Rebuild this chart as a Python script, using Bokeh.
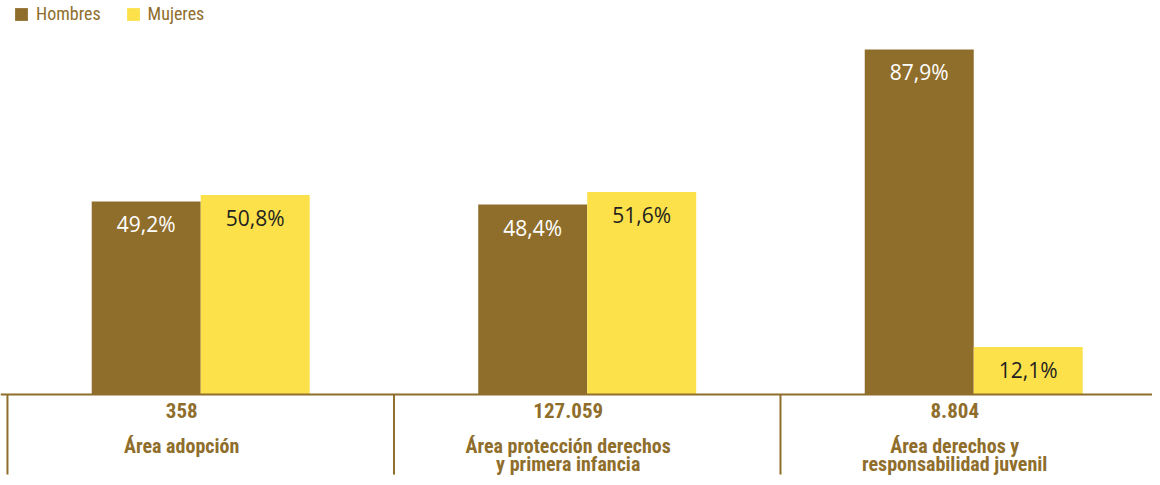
from bokeh.plotting import figure
from bokeh.models import ColumnDataSource, Range1d, Span
from bokeh.transform import dodge
from bokeh.core.properties import value
from bokeh.embed import file_html
from bokeh.resources import INLINE

# ---- data ----
categories = ["Área adopción",
              "Área protección derechos\ny primera infancia",
              "Área derechos y\nresponsabilidad juvenil"]
totals = ["358", "127.059", "8.804"]
hombres = [49.2, 48.4, 87.9]
mujeres = [50.8, 51.6, 12.1]
series_names = ["Hombres", "Mujeres"]

BROWN = "#8F6E2C"
YELLOW = "#FCE14B"
DARK = "#231F20"
LABEL_FONT = "Roboto Condensed"
VALUE_FONT = "Open Sans"

def pct(v):
    return f"{v:.1f}".replace(".", ",") + "%"

idx = list(range(len(categories)))
src = ColumnDataSource(dict(
    x=idx,
    cat=categories,
    total=totals,
    h=hombres,
    m=mujeres,
    hl=[pct(v) for v in hombres],
    ml=[pct(v) for v in mujeres],
    sep=[i - 0.5 for i in idx],
))

W, H = 1152, 477
p = figure(width=W, height=H, output_backend="svg", toolbar_location=None,
           x_range=Range1d(-0.518, 2.4625),
           y_range=Range1d(-21.15, 100.38),
           x_axis_location=None, y_axis_location=None,
           min_border=0)
p.outline_line_color = None
p.xgrid.visible = False
p.ygrid.visible = False
p.background_fill_color = "white"

BW = 0.282
OFF = BW / 2

p.vbar(x=dodge("x", -OFF), top="h", width=BW, bottom=0,
       source=src, fill_color=BROWN, line_color=None, legend_label=series_names[0])
p.vbar(x=dodge("x", OFF), top="m", width=BW, bottom=0,
       source=src, fill_color=YELLOW, line_color=None, legend_label=series_names[1])

p.text(x=dodge("x", -OFF), y="h", text="hl", source=src,
       y_offset=23, text_align="center", text_baseline="middle",
       text_color="white", text_font=value(VALUE_FONT), text_font_size="21px")
p.text(x=dodge("x", OFF), y="m", text="ml", source=src,
       y_offset=23, text_align="center", text_baseline="middle",
       text_color=DARK, text_font=value(VALUE_FONT), text_font_size="21px")

# baseline
p.add_layout(Span(location=0, dimension="width", line_color=BROWN, line_width=2))

# separators at left edge of each category
p.segment(x0="sep", y0=0, x1="sep", y1=-20.4, source=src,
          line_color=BROWN, line_width=2)

# category labels
p.text(x="x", y=0, text="total", source=src, x_offset=-19, y_offset=16,
       text_align="center", text_baseline="middle", text_color=BROWN,
       text_font=value(LABEL_FONT), text_font_style="bold", text_font_size="21px")
p.text(x="x", y=0, text="cat", source=src, x_offset=-19, y_offset=40,
       text_align="center", text_baseline="top", text_color=BROWN,
       text_line_height=0.72,
       text_font=value(LABEL_FONT), text_font_style="bold", text_font_size="20px")

lg = p.legend[0]
lg.orientation = "horizontal"
lg.location = (13, H - 8 - 16)
lg.margin = 0
lg.padding = 0
lg.spacing = 24
lg.glyph_width = 16
lg.glyph_height = 16
lg.label_height = 16
lg.label_standoff = 7
lg.label_text_font = LABEL_FONT
lg.label_text_font_size = "18px"
lg.label_text_color = BROWN
lg.border_line_color = None
lg.background_fill_alpha = 0

open("out.html", "w").write(file_html(p, INLINE))
